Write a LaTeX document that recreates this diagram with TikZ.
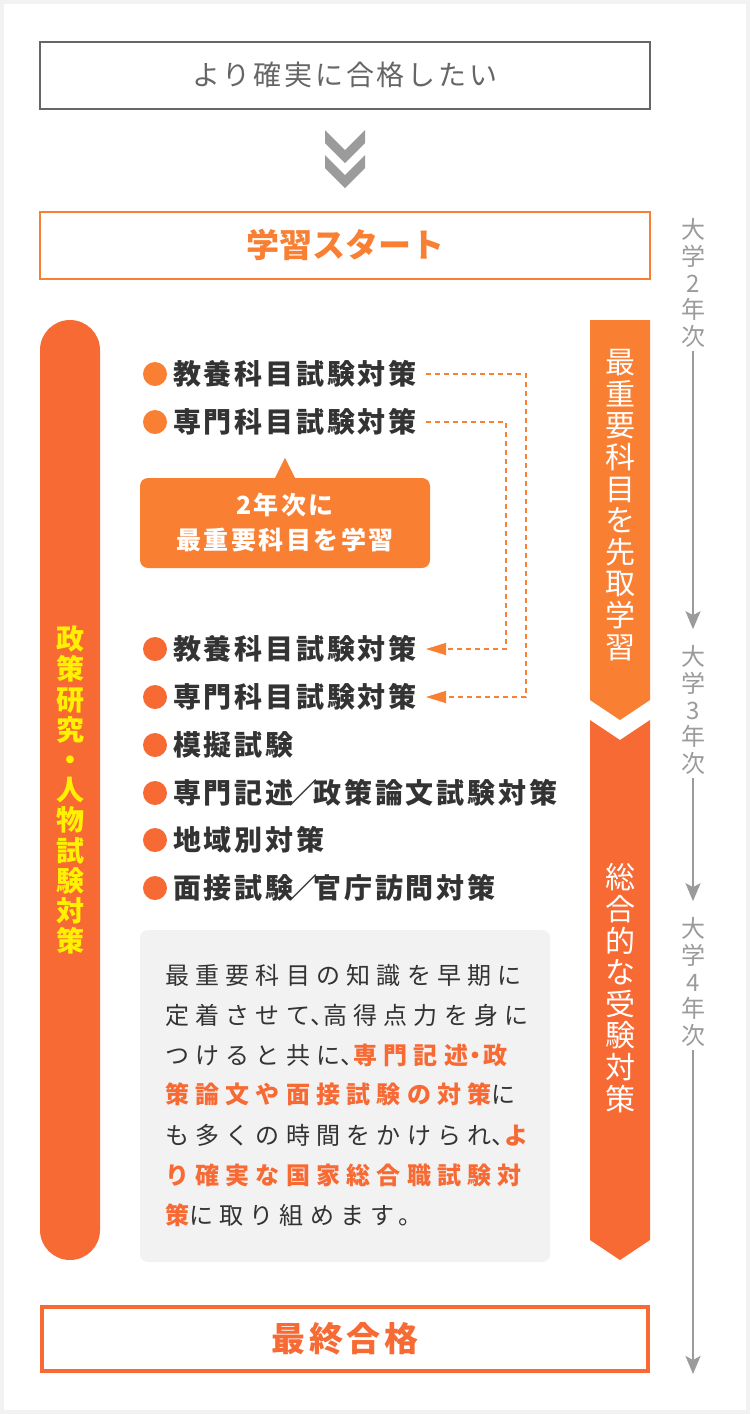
\documentclass[tikz,border=0pt]{standalone}
\usepackage{fontspec}
\usepackage{xcolor}
\usetikzlibrary{arrows.meta, positioning, calc}
\setmainfont{Noto Sans CJK JP}
\newfontfamily\jp{Noto Sans CJK JP}
\newfontfamily\jpitem[LetterSpace=10]{Noto Sans CJK JP}
\newfontfamily\jpbody[LetterSpace=26]{Noto Sans CJK JP}
\definecolor{orlight}{HTML}{F97F33}
\definecolor{ordeep}{HTML}{F76A34}
\definecolor{tlgray}{HTML}{9B9B9B}
\definecolor{boxgray}{HTML}{F2F2F2}
\definecolor{txtdark}{HTML}{333333}
\definecolor{txtgray}{HTML}{666666}
\definecolor{pillyellow}{HTML}{FFF100}
\newcommand{\hl}[1]{{\color{ordeep}\bfseries #1}}
\newcommand{\tten}{\makebox[13pt][l]{、}}
\newcommand{\nkg}{\makebox[15pt][c]{・}}
\newcommand{\slsh}{\makebox[20pt][c]{／}}

\begin{document}
\begin{tikzpicture}[x=1pt,y=-1pt,
  framebox/.style={minimum width=610pt, minimum height=67pt, inner sep=0pt},
  dot/.style={circle, fill=#1, minimum size=24pt, inner sep=0pt},
  item/.style={anchor=west, inner sep=0pt, text=txtdark, font=\jpitem\fontsize{28}{28}\selectfont\bfseries},
  vlabel/.style={align=center, inner sep=0pt, text=white, font=\jp\fontsize{30}{31.6}\selectfont},
  yearlabel/.style={align=center, inner sep=0pt, text=tlgray, font=\jp\fontsize{24}{26.8}\selectfont},
  bodyline/.style={anchor=west, inner sep=0pt, text=txtdark, font=\jpbody\fontsize{24}{24}\selectfont},
  dashconn/.style={draw=orlight, line width=1.5pt, dash pattern=on 5pt off 4pt, -{Triangle[length=20pt, width=12pt, fill=orlight]}},
  timeline/.style={draw=tlgray, line width=2pt, -{Stealth[length=18pt, width=15pt, inset=4pt]}}]

\useasboundingbox (0,0) rectangle (750,1414);
\fill[boxgray] (0,0) rectangle (750,1414);
\fill[white] (4,4) rectangle (746,1410);

% Wish
\node[framebox, draw=txtgray, line width=2pt, text=txtgray, font=\jpitem\fontsize{28}{28}\selectfont] (wish) at (345,75) {より確実に合格したい};

% Chevrons
\foreach \dy in {0,25}
  \fill[tlgray] (325,130+\dy) -- (345,150+\dy) -- (365,130+\dy) -- (365,143+\dy) -- (345,163+\dy) -- (325,143+\dy) -- cycle;

% Start
\node[framebox, draw=orlight, line width=2pt, text=orlight, font=\jp\fontsize{33}{33}\selectfont\bfseries] (start) at (345,245) {学習スタート};

% Left pill
\fill[ordeep, rounded corners=30pt] (40,320) rectangle (100,1260);
\node[align=center, inner sep=0pt, text=pillyellow, font=\jp\fontsize{28}{30.2}\selectfont\bfseries] (pill) at (70,790) {政\\策\\研\\究\\・\\人\\物\\試\\験\\対\\策};

% Right bars
\fill[orlight] (590,320) -- (650,320) -- (650,700) -- (620,720) -- (590,700) -- cycle;
\node[vlabel] (bar1) at (620,505) {最\\重\\要\\科\\目\\を\\先\\取\\学\\習};
\fill[ordeep] (590,720) -- (620,740) -- (650,720) -- (650,1240) -- (620,1260) -- (590,1240) -- cycle;
\node[vlabel] (bar2) at (620,988) {総\\合\\的\\な\\受\\験\\対\\策};

% Timeline
\node[yearlabel] (y2) at (693,283) {大\\学\\2\\年\\次};
\node[yearlabel] (y3) at (693,710) {大\\学\\3\\年\\次};
\node[yearlabel] (y4) at (693,982) {大\\学\\4\\年\\次};
\coordinate (tlend) at (693,1374);
\draw[timeline, shorten <=3pt, shorten >=16pt] (y2) -- (y3);
\draw[timeline, shorten <=3pt, shorten >=16pt] (y3) -- (y4);
\draw[timeline, shorten <=3pt] (y4) -- (tlend);

% Year 2 items
\node[dot=orlight] (d1) at (155,374) {};
\node[item] (k1) at (173,374) {教養科目試験対策};
\node[dot=orlight] (d2) at (155,422) {};
\node[item] (k2) at (173,422) {専門科目試験対策};

% Callout
\node[fill=orlight, rounded corners=8pt, minimum width=290pt, minimum height=90pt, align=center, text=white, font=\jpitem\fontsize{25}{35}\selectfont\bfseries] (call) at (285,523) {2年次に\\最重要科目を学習};
\fill[orlight] ([xshift=-10pt]call.north) -- ([yshift=20pt]call.north) -- ([xshift=10pt]call.north) -- cycle;

% Year 3-4 items
\foreach \i/\yy/\txt in {3/649/教養科目試験対策, 4/697/専門科目試験対策, 5/745/模擬試験, 6/793/専門記述\slsh 政策論文試験対策, 7/840/地域別対策, 8/888/面接試験\slsh 官庁訪問対策} {
  \node[dot=ordeep] (d\i) at (155,\yy) {};
  \node[item] (k\i) at (173,\yy) {\txt};
}

% Dashed links
\draw[dashconn] ([xshift=9pt]k1.east) -- ++(100,0) |- ([xshift=9pt]k4.east);
\draw[dashconn] ([xshift=9pt]k2.east) -- ++(80,0) |- ([xshift=9pt]k3.east);

% Note box
\fill[boxgray, rounded corners=8pt] (140,930) rectangle (550,1262);
\node[bodyline] (t1) at (165,975) {最重要科目の知識を早期に};
\node[bodyline] (t2) at (165,1015) {定着させて\tten 高得点力を身に};
\node[bodyline] (t3) at (165,1055) {つけると共に\tten\hl{専門記述\nkg 政}};
\node[bodyline] (t4) at (165,1094) {\hl{策論文や面接試験の対策}に};
\node[bodyline] (t5) at (165,1135) {も多くの時間をかけられ\tten\hl{よ}};
\node[bodyline] (t6) at (165,1175) {\hl{り確実な国家総合職試験対}};
\node[bodyline] (t7) at (165,1215) {\hl{策}に取り組めます。};

% Goal
\node[framebox, minimum width=606pt, minimum height=64pt, draw=ordeep, line width=4pt, text=ordeep, font=\jpitem\fontsize{34}{34}\selectfont\bfseries] (goal) at (345,1339) {最終合格};

\end{tikzpicture}
\end{document}
